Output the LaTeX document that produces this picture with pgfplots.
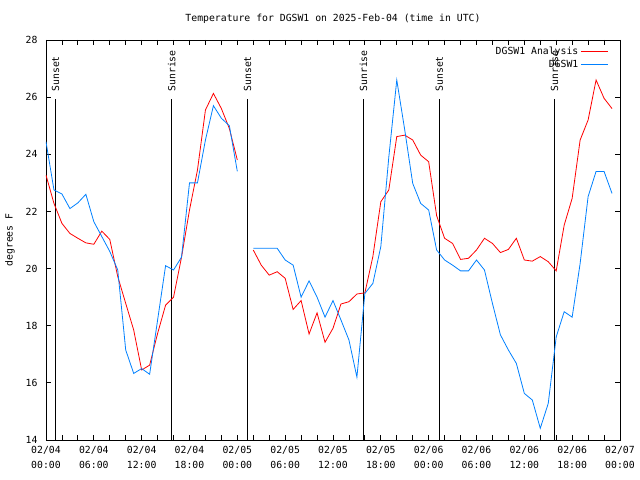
\documentclass[border=0pt]{standalone}
\usepackage{fontspec}
\setmainfont{DejaVu Sans Mono}
\usepackage{pgfplots}
\pgfplotsset{compat=1.18}
\definecolor{anared}{RGB}{255,0,0}
\definecolor{obsblue}{RGB}{0,128,255}
\begin{document}
\fontsize{9.8bp}{12bp}\selectfont
\begin{tikzpicture}
\path[use as bounding box] (-46bp,-40bp) rectangle (594bp,440bp);
\begin{axis}[
  scale only axis,
  width=574bp, height=400bp,
  xmin=0, xmax=72, ymin=14, ymax=28,
  xtick={0,6,...,72},
  minor xtick={2,4,8,10,14,16,20,22,26,28,32,34,38,40,44,46,50,52,56,58,62,64,68,70},
  xticklabels={{02/04\\00:00},{02/04\\06:00},{02/04\\12:00},{02/04\\18:00},{02/05\\00:00},{02/05\\06:00},{02/05\\12:00},{02/05\\18:00},{02/06\\00:00},{02/06\\06:00},{02/06\\12:00},{02/06\\18:00},{02/07\\00:00}},
  xticklabel style={align=center, yshift=-3bp, font=\fontsize{9.8bp}{15bp}\selectfont},
  ytick={14,16,...,28},
  yticklabel style={xshift=-5bp},
  tick align=inside,
  major tick length=5bp, minor tick length=5bp,
  tick style={black, line width=0.8bp},
  axis line style={line width=0.8bp},
  /pgf/number format/assume math mode=true,
  font=\fontsize{9.8bp}{12bp}\selectfont,
  title={Temperature for DGSW1 on 2025-Feb-04 (time in UTC)},
  title style={at={(0.5,1)}, anchor=center, yshift=15bp},
  ylabel={degrees F},
  every axis y label/.style={at={(axis description cs:-0.0627,0.5)}, rotate=90, anchor=center},
  unbounded coords=jump,
  legend plot pos=right,
  legend cell align=right,
  legend style={draw=none, fill opacity=0, text opacity=1, at={(axis description cs:0.98,0.9875)}, anchor=north east, row sep=0bp, inner sep=0pt},
]
% sunrise / sunset lines
\addplot[black, line width=0.8bp, forget plot] coordinates {(1.2,14) (1.2,25.92)};
\addplot[black, line width=0.8bp, forget plot] coordinates {(15.77,14) (15.77,25.92)};
\addplot[black, line width=0.8bp, forget plot] coordinates {(25.28,14) (25.28,25.92)};
\addplot[black, line width=0.8bp, forget plot] coordinates {(39.81,14) (39.81,25.92)};
\addplot[black, line width=0.8bp, forget plot] coordinates {(49.35,14) (49.35,25.92)};
\addplot[black, line width=0.8bp, forget plot] coordinates {(63.78,14) (63.78,25.92)};
\node[rotate=90, anchor=west, inner sep=0pt] at (axis cs:1.2,26.19) {Sunset};
\node[rotate=90, anchor=west, inner sep=0pt] at (axis cs:15.77,26.19) {Sunrise};
\node[rotate=90, anchor=west, inner sep=0pt] at (axis cs:25.28,26.19) {Sunset};
\node[rotate=90, anchor=west, inner sep=0pt] at (axis cs:39.81,26.19) {Sunrise};
\node[rotate=90, anchor=west, inner sep=0pt] at (axis cs:49.35,26.19) {Sunset};
\node[rotate=90, anchor=west, inner sep=0pt] at (axis cs:63.78,26.19) {Sunrise};
% analysis
\addplot[color=anared, line width=0.8bp, legend image code/.code={\draw[draw=red, line width=1bp] (0bp,0bp) -- (27bp,0bp);}] coordinates {
(0,23.27) (1,22.28) (2,21.58) (3,21.23) (4,21.06) (5,20.9) (6,20.85) (7,21.31) (8,21.02)
(9,19.72) (10,18.78) (11,17.85) (12,16.45) (13,16.62) (14,17.73) (15,18.72) (16,19.0)
(17,20.4) (18,22.05) (19,23.45) (20,25.55) (21,26.13) (22,25.6) (23,24.9) (24,23.8)
(25,nan)
(26,20.65) (27,20.12) (28,19.77) (29,19.89) (30,19.66) (31,18.57) (32,18.88) (33,17.71)
(34,18.45) (35,17.42) (36,17.91) (37,18.76) (38,18.84) (39,19.11) (40,19.15) (41,20.42)
(42,22.34) (43,22.75) (44,24.62) (45,24.67) (46,24.5) (47,23.97) (48,23.74) (49,21.85)
(50,21.06) (51,20.88) (52,20.32) (53,20.36) (54,20.65) (55,21.06) (56,20.88) (57,20.56)
(58,20.67) (59,21.06) (60,20.3) (61,20.26) (62,20.42) (63,20.24) (64,19.92) (65,21.52)
(66,22.46) (67,24.5) (68,25.2) (69,26.6) (70,25.96) (71,25.6)
};
\addlegendentry{DGSW1 Analysis}
% observations
\addplot[color=obsblue, line width=0.8bp, legend image code/.code={\draw[draw=obsblue, line width=1bp] (0bp,0bp) -- (27bp,0bp);}] coordinates {
(0,24.44) (1,22.75) (2,22.61) (3,22.1) (4,22.3) (5,22.6) (6,21.64) (7,21.12) (8,20.6)
(9,19.95) (10,17.15) (11,16.33) (12,16.5) (13,16.3) (14,18.2) (15,20.1) (16,19.95)
(17,20.4) (18,23.0) (19,23.0) (20,24.5) (21,25.7) (22,25.26) (23,25.0) (24,23.4)
(25,nan)
(26,20.71) (27,20.71) (28,20.71) (29,20.71) (30,20.3) (31,20.12) (32,19.0) (33,19.57)
(34,19.0) (35,18.3) (36,18.88) (37,18.2) (38,17.5) (39,16.2) (40,19.13) (41,19.48)
(42,20.77) (43,23.9) (44,26.6) (45,24.85) (46,22.98) (47,22.28) (48,22.05) (49,20.65)
(50,20.3) (51,20.12) (52,19.92) (53,19.92) (54,20.3) (55,19.95) (56,18.78) (57,17.68)
(58,17.15) (59,16.68) (60,15.63) (61,15.4) (62,14.41) (63,15.28) (64,17.61) (65,18.49)
(66,18.3) (67,20.18) (68,22.52) (69,23.4) (70,23.4) (71,22.63)
};
\addlegendentry{DGSW1}
\end{axis}
\end{tikzpicture}
\end{document}
